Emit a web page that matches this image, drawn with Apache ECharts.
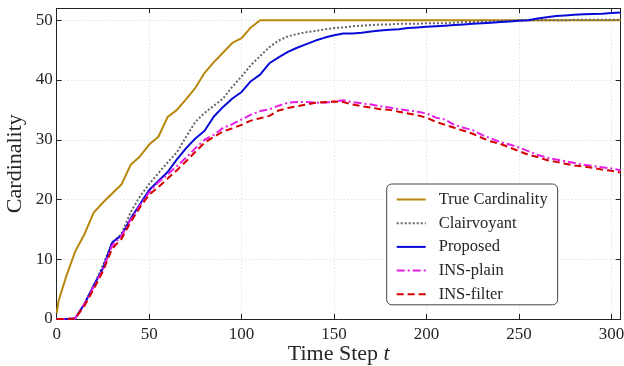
<!DOCTYPE html>
<html>
<head>
<meta charset="utf-8">
<script src="https://cdn.jsdelivr.net/npm/echarts@6/dist/echarts.min.js"></script>
<style>html,body{margin:0;padding:0;background:#fff;}#c{width:624px;height:366px;}</style>
</head>
<body>
<div id="c"></div>
<script>
const steps = [0,1,5,10,15,20,25,30,35,40,45,50,55,60,65,70,75,80,85,90,95,100,105,110,115,120,125,130,135,140,145,150,155,160,165,170,175,180,185,190,195,200,205,210,215,220,225,230,235,240,245,250,255,260,265,270,275,280,285,290,295,300,305];
const trueCard = [1.0,3.0,7.0,11.3,14.2,17.8,19.5,21.0,22.5,25.8,27.2,29.2,30.5,33.8,35.0,36.8,38.7,41.2,43.0,44.6,46.2,47.0,48.8,50,50,50,50,50,50,50,50,50,50,50,50,50,50,50,50,50,50,50,50,50,50,50,50,50,50,50,50,50,50,50,50,50,50,50,50,50,50,50,50];
const clairvoyant = [0,0,0,0.1,2.6,5.5,9.0,12.8,14.2,17.9,20.5,22.6,24.4,26.2,27.9,30.5,33.0,34.5,35.7,36.9,38.9,40.6,42.5,44.0,45.5,46.6,47.3,47.7,48.0,48.2,48.5,48.7,48.8,49.0,49.1,49.2,49.3,49.3,49.4,49.4,49.4,49.5,49.5,49.5,49.6,49.7,49.7,49.8,49.8,49.9,49.9,50.0,50.0,50.0,50.0,50.0,50.0,50.1,50.1,50.1,50.1,50.1,50.1];
const proposed = [0,0,0,0.1,2.5,5.6,8.5,12.8,14.0,16.8,19.2,21.6,23.1,24.6,26.7,28.6,30.2,31.5,33.9,35.5,36.9,38.0,39.8,40.9,42.8,43.8,44.7,45.4,46.0,46.6,47.1,47.5,47.8,47.8,47.9,48.1,48.3,48.4,48.5,48.7,48.8,48.9,49.0,49.1,49.2,49.3,49.4,49.5,49.6,49.7,49.8,49.9,50.0,50.3,50.5,50.7,50.8,50.9,51.0,51.05,51.1,51.2,51.3];
const insPlain = [0,0,0,0.1,2.5,5.4,8.3,12.3,13.9,16.6,19.0,21.2,22.9,24.2,25.6,27.0,28.6,30.0,30.8,32.0,32.6,33.4,34.2,34.8,35.1,35.7,36.2,36.3,36.3,36.2,36.2,36.4,36.6,36.3,36.1,35.9,35.6,35.4,35.1,34.9,34.7,34.4,33.7,33.4,32.5,32.0,31.6,30.8,30.2,29.6,29.2,28.7,28.1,27.5,27.0,26.7,26.4,26.1,25.8,25.6,25.4,25.2,24.9];
const insFilter = [0,0,0,0.1,2.2,5.0,8.0,11.8,13.4,16.2,18.7,20.8,22.1,23.5,24.9,26.4,28.0,29.5,30.5,31.4,31.9,32.5,33.2,33.6,34.0,34.9,35.3,35.6,35.9,36.2,36.3,36.4,36.3,35.9,35.6,35.4,35.1,35.0,34.7,34.4,34.1,33.7,33.0,32.5,32.0,31.5,31.0,30.3,29.7,29.3,28.7,28.1,27.5,27.1,26.6,26.3,26.0,25.7,25.5,25.3,25.0,24.8,24.5];
const seriesNames = ['True Cardinality','Clairvoyant','Proposed','INS-plain','INS-filter'];

const pair = arr => steps.map((t, i) => [t, arr[i]]);
const FONT = '"Liberation Serif", "DejaVu Serif", serif';
const TXT = '#262626';

const chart = echarts.init(document.getElementById('c'), null, {renderer: 'canvas'});
const gridLine = {show: true, lineStyle: {color: '#dcdcdc', width: 0.8, type: [1.5, 2]}};
const axisLine = {show: true, onZero: false, lineStyle: {color: '#222', width: 1}};
const ticks = {show: true, inside: true, length: 5, lineStyle: {color: '#222', width: 1}};

function mk(name, data, color, type, width) {
  return {
    name: name, type: 'line', data: pair(data), showSymbol: false, symbol: 'none',
    lineStyle: {color: color, width: width, type: type}, itemStyle: {color: color},
    animation: false, z: 2
  };
}

chart.setOption({
  animation: false,
  grid: {left: 56.7, right: 3.3, top: 8.3, bottom: 47, containLabel: false, outerBoundsMode: 'none'},
  xAxis: [{
    type: 'value', min: 0, max: 305, interval: 50, position: 'bottom',
    axisLine: axisLine, axisTick: ticks, splitLine: gridLine,
    axisLabel: {fontFamily: FONT, fontSize: 17, color: TXT, margin: 7,
      formatter: v => (v % 50 === 0 ? String(v) : '')},
    name: 'Time Step {i|t}', nameLocation: 'middle', nameGap: 24, nameMoveOverlap: false,
    nameTextStyle: {fontFamily: FONT, fontSize: 22, color: TXT,
      rich: {i: {fontFamily: FONT, fontSize: 22, fontStyle: 'italic', color: TXT}}}
  }, {
    type: 'value', min: 0, max: 305, interval: 50, position: 'top',
    axisLine: axisLine, axisTick: ticks, splitLine: {show: false}, axisLabel: {show: false}
  }],
  yAxis: [{
    type: 'value', min: 0, max: 52, interval: 10, position: 'left',
    axisLine: axisLine, axisTick: ticks, splitLine: gridLine,
    axisLabel: {fontFamily: FONT, fontSize: 17, color: TXT, margin: 4,
      formatter: v => (v % 10 === 0 ? String(v) : '')},
    name: 'Cardinality', nameLocation: 'middle', nameGap: 30, nameMoveOverlap: false,
    nameTextStyle: {fontFamily: FONT, fontSize: 22, color: TXT}
  }, {
    type: 'value', min: 0, max: 52, interval: 10, position: 'right',
    axisLine: axisLine, axisTick: ticks, splitLine: {show: false}, axisLabel: {show: false}
  }],
  legend: {
    data: seriesNames, orient: 'vertical', left: 386.7, top: 184,
    padding: [7, 10, 2, 9], itemWidth: 29, itemHeight: 14, itemGap: 6.7,
    backgroundColor: '#fff', borderColor: '#444', borderWidth: 1, borderRadius: 5,
    itemStyle: {opacity: 0, borderWidth: 0},
    textStyle: {fontFamily: FONT, fontSize: 16.5, color: TXT, padding: [0, 0, 0, 8], lineHeight: 14},
    selectedMode: false
  },
  series: [
    mk(seriesNames[0], trueCard, '#b8860b', 'solid', 2),
    mk(seriesNames[1], clairvoyant, '#666666', [2, 2], 2),
    mk(seriesNames[2], proposed, '#0a0ad8', 'solid', 2),
    mk(seriesNames[3], insPlain, '#e61ee6', [8, 3, 2, 3], 2),
    mk(seriesNames[4], insFilter, '#d40000', [7, 4], 2)
  ]
});
</script>
</body>
</html>
